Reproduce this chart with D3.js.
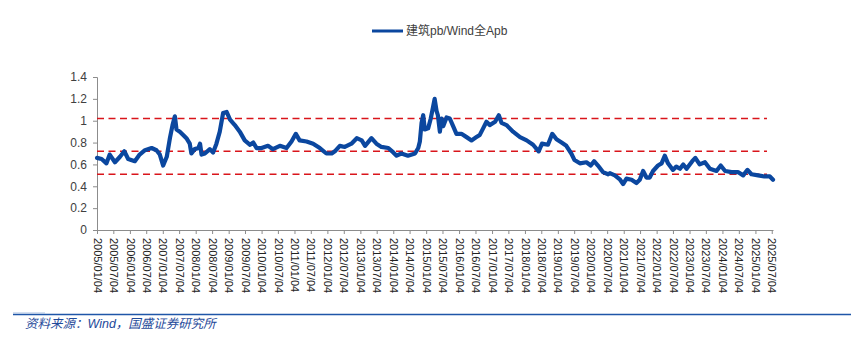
<!DOCTYPE html>
<html>
<head>
<meta charset="utf-8">
<script src="https://cdn.jsdelivr.net/npm/d3@7/dist/d3.min.js"></script>
<style>
  html, body { margin: 0; padding: 0; background: #fff; }
  svg { display: block; }
</style>
</head>
<body>
<svg id="chart" width="851" height="338"></svg>
<script>
// Construction sector PB relative to Wind All-A PB
const seriesName = "建筑pb/Wind全Apb";
const sourceNote = "资料来源：Wind，国盛证券研究所";

const dates = [
  "2005-01-04","2005-02-24","2005-04-19","2005-05-25","2005-07-22","2005-09-16","2005-11-03","2005-12-16",
  "2006-02-28","2006-04-22","2006-06-20","2006-09-02","2006-10-26","2006-12-02",
  "2007-01-08","2007-02-17","2007-03-24","2007-04-22","2007-05-18","2007-06-05","2007-07-12","2007-08-18",
  "2007-09-23","2007-10-30","2007-11-17","2007-12-24",
  "2008-02-03","2008-02-21","2008-03-09","2008-04-15","2008-06-09","2008-07-15","2008-08-21","2008-09-27",
  "2008-11-03","2008-12-13",
  "2009-01-19","2009-03-13","2009-05-07","2009-07-01","2009-08-29","2009-10-04","2009-11-10",
  "2010-01-04","2010-03-16","2010-05-10","2010-07-26","2010-10-08","2010-12-02",
  "2011-01-19","2011-03-02","2011-05-18","2011-07-30","2011-10-12","2011-12-24",
  "2012-02-21","2012-03-27","2012-05-21","2012-07-15","2012-09-27","2012-11-25",
  "2013-01-19","2013-02-25","2013-05-07","2013-07-01","2013-08-25","2013-11-10",
  "2014-01-04","2014-02-10","2014-04-04","2014-06-16","2014-09-02","2014-10-08","2014-10-26","2014-11-14",
  "2014-12-02","2014-12-20",
  "2015-01-26","2015-02-24","2015-03-20","2015-04-08","2015-04-29","2015-05-14","2015-06-05","2015-06-24",
  "2015-07-12","2015-08-18","2015-09-23","2015-10-30","2015-12-06",
  "2016-01-30","2016-03-27","2016-05-21","2016-07-15","2016-08-21","2016-09-27","2016-11-03","2016-12-09",
  "2017-02-07","2017-03-20","2017-04-19","2017-06-13","2017-08-25","2017-11-10",
  "2018-01-23","2018-04-04","2018-06-05","2018-07-12","2018-09-16","2018-11-03","2018-12-20",
  "2019-02-14","2019-04-08","2019-06-02","2019-07-08","2019-09-05","2019-11-17",
  "2020-01-04","2020-02-10","2020-03-24","2020-05-18","2020-07-15","2020-08-03","2020-09-27","2020-11-25",
  "2020-12-28",
  "2021-02-03","2021-04-01","2021-05-25","2021-07-01","2021-08-07","2021-09-13","2021-10-19","2021-11-25",
  "2022-01-19","2022-02-28","2022-04-04","2022-05-10","2022-07-04","2022-08-10","2022-09-20","2022-10-26",
  "2022-12-02",
  "2023-02-03","2023-03-09","2023-04-26","2023-06-24","2023-08-18","2023-10-30","2023-12-16",
  "2024-02-03","2024-04-15","2024-06-24","2024-08-21","2024-10-08","2024-11-21",
  "2025-02-03","2025-04-15","2025-06-13","2025-07-18"
];

const pbRatio = [
  0.66,0.65,0.61,0.69,0.62,0.67,0.72,0.65,
  0.63,0.69,0.73,0.75,0.73,0.69,
  0.59,0.67,0.84,0.96,1.04,0.92,0.90,0.87,
  0.84,0.79,0.70,0.74,
  0.75,0.79,0.69,0.70,0.74,0.71,0.79,0.90,
  1.07,1.08,
  1.01,0.96,0.90,0.82,0.78,0.80,0.75,
  0.75,0.77,0.74,0.77,0.75,0.81,
  0.88,0.82,0.81,0.79,0.75,0.70,
  0.70,0.72,0.77,0.76,0.79,0.84,
  0.82,0.77,0.84,0.79,0.76,0.75,
  0.71,0.68,0.70,0.68,0.70,0.75,0.81,0.98,
  1.05,0.92,
  0.93,1.02,1.12,1.20,1.09,1.05,0.90,1.02,
  0.95,1.03,1.02,0.95,0.88,
  0.88,0.85,0.82,0.85,0.87,0.93,0.99,0.96,
  0.99,1.05,0.98,0.96,0.90,0.85,
  0.82,0.78,0.72,0.79,0.78,0.88,0.83,
  0.80,0.77,0.70,0.64,0.61,0.62,
  0.59,0.63,0.59,0.53,0.51,0.52,0.50,0.46,
  0.42,
  0.47,0.46,0.43,0.46,0.54,0.48,0.48,0.54,
  0.59,0.61,0.68,0.61,0.55,0.58,0.56,0.60,
  0.56,
  0.63,0.66,0.60,0.62,0.56,0.54,0.59,
  0.54,0.53,0.53,0.50,0.55,0.51,
  0.50,0.49,0.49,0.46
];

// Horizontal reference levels (dashed red)
const refLevels = [1.02, 0.72, 0.51];

const yTicks = [0, 0.2, 0.4, 0.6, 0.8, 1, 1.2, 1.4];
const tickYears = d3.range(2005, 2026);

const parseDate = d3.timeParse("%Y-%m-%d");
const data = dates.map((d, i) => ({ date: parseDate(d), value: pbRatio[i] }));

const svg = d3.select("#chart");
const axisColor = "#8c8c8c";
const textColor = "#404040";
const lineColor = "#0b479f";

const x = d3.scaleTime()
  .domain([parseDate("2005-01-04"), parseDate("2025-07-18")])
  .range([97, 773]);
const y = d3.scaleLinear().domain([0, 1.4]).range([230, 77]);

// half-year ticks on the 4th of January and July
const xTickDates = [];
tickYears.forEach(yr => {
  xTickDates.push(new Date(yr, 0, 4));
  xTickDates.push(new Date(yr, 6, 4));
});

// Y axis
const yAxis = svg.append("g")
  .attr("transform", "translate(97,0)")
  .call(d3.axisLeft(y).tickValues(yTicks).tickSize(4).tickPadding(6)
    .tickFormat(d => d3.format("~g")(d)));
yAxis.select(".domain").attr("stroke", axisColor);
yAxis.selectAll(".tick line").attr("stroke", axisColor);
yAxis.selectAll("text")
  .attr("fill", textColor)
  .style("font-family", "'Liberation Sans', Arial, sans-serif")
  .style("font-size", "12px");

// X axis
const xAxis = svg.append("g")
  .attr("transform", "translate(0,230)")
  .call(d3.axisBottom(x).tickValues(xTickDates).tickSize(4).tickSizeOuter(0)
    .tickFormat(d3.timeFormat("%Y/%m/%d")));
xAxis.select(".domain").attr("stroke", axisColor);
xAxis.selectAll(".tick line").attr("stroke", axisColor);
xAxis.selectAll("text")
  .attr("transform", "rotate(90)")
  .attr("x", 8)
  .attr("y", 0)
  .attr("dy", "0.35em")
  .attr("text-anchor", "start")
  .attr("fill", "#222")
  .style("font-family", "'Liberation Sans', Arial, sans-serif")
  .style("font-size", "11px");

// Reference levels
svg.append("g").selectAll("line")
  .data(refLevels)
  .join("line")
  .attr("x1", 97).attr("x2", 767)
  .attr("y1", d => y(d)).attr("y2", d => y(d))
  .attr("stroke", "#d9151b")
  .attr("stroke-width", 1.5)
  .attr("stroke-dasharray", "7,4.5");

// Series line
svg.append("path")
  .datum(data)
  .attr("fill", "none")
  .attr("stroke", lineColor)
  .attr("stroke-width", 4.2)
  .attr("stroke-linejoin", "round")
  .attr("stroke-linecap", "round")
  .attr("d", d3.line().x(d => x(d.date)).y(d => y(d.value)));

// Legend
const legend = svg.append("g");
legend.append("line")
  .attr("x1", 372).attr("x2", 403).attr("y1", 31).attr("y2", 31)
  .attr("stroke", lineColor).attr("stroke-width", 3);
legend.append("text")
  .attr("x", 406).attr("y", 35)
  .attr("fill", textColor)
  .style("font-family", "'Liberation Sans', 'Noto Sans CJK SC', sans-serif")
  .style("font-size", "12px")
  .text(seriesName);

// Footer rule and source note
svg.append("line")
  .attr("x1", 13).attr("x2", 851).attr("y1", 314.5).attr("y2", 314.5)
  .attr("stroke", "#1f56a8").attr("stroke-width", 1.5);
svg.append("line")
  .attr("x1", 13).attr("x2", 45).attr("y1", 313).attr("y2", 313)
  .attr("stroke", "#a9bfe0").attr("stroke-width", 1);
svg.append("text")
  .attr("x", 25).attr("y", 328)
  .attr("fill", "#1f4a9a")
  .style("font-family", "'Liberation Sans', 'Noto Sans CJK SC', sans-serif")
  .style("font-size", "12.5px")
  .style("font-style", "italic")
  .text(sourceNote);
</script>
</body>
</html>
